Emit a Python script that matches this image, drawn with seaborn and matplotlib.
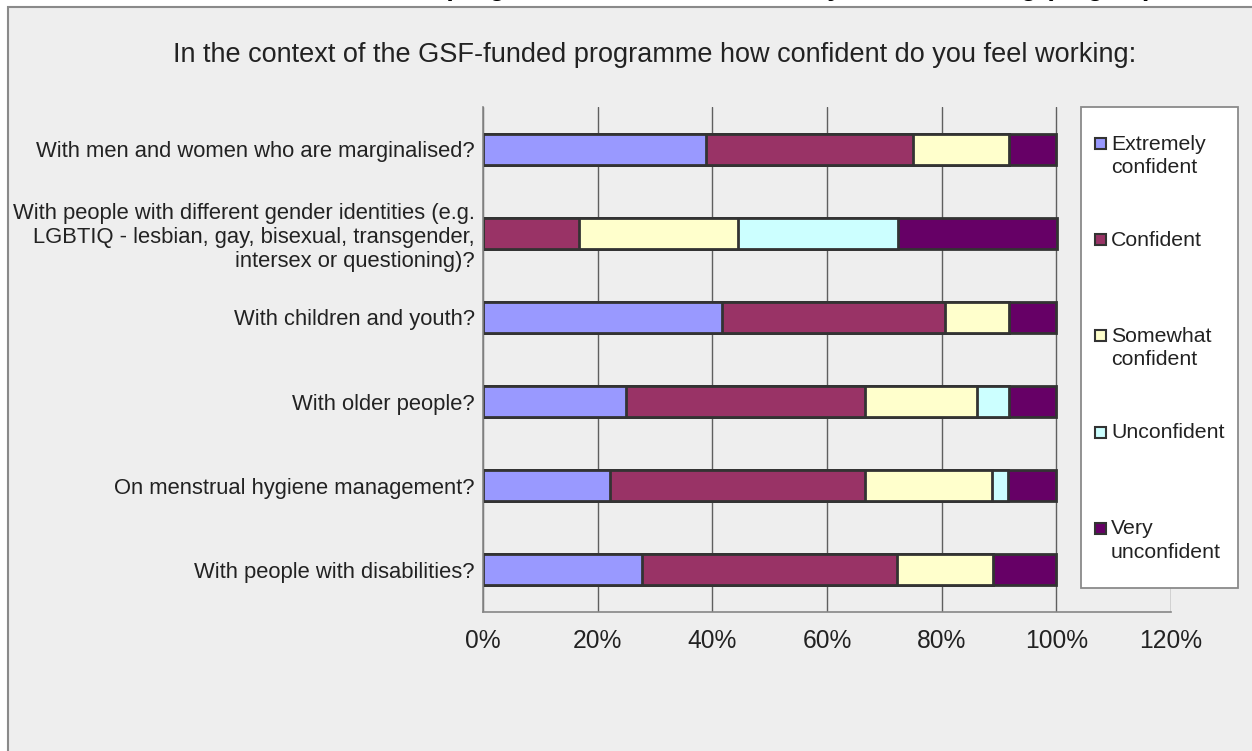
import numpy as np
import pandas as pd
import seaborn as sns
import matplotlib.pyplot as plt
from matplotlib.patches import Rectangle

# Data (% of respondents)
questions = [
    "With men and women who are marginalised?",
    "With people with different gender identities (e.g.\nLGBTIQ - lesbian, gay, bisexual, transgender,\nintersex or questioning)?",
    "With children and youth?",
    "With older people?",
    "On menstrual hygiene management?",
    "With people with disabilities?",
]
levels = ["Extremely\nconfident", "Confident", "Somewhat\nconfident", "Unconfident", "Very\nunconfident"]
colors = ["#9999FF", "#993366", "#FFFFCC", "#CCFFFF", "#660066"]

extremely = [38.9, 0.0, 41.7, 25.0, 22.2, 27.8]
confident = [36.1, 16.7, 38.9, 41.7, 44.4, 44.4]
somewhat = [16.7, 27.8, 11.1, 19.4, 22.2, 16.7]
unconfident = [0.0, 27.8, 0.0, 5.6, 2.8, 0.0]
very_unconfident = [8.3, 27.8, 8.3, 8.3, 8.3, 11.1]

x_ticks = [0, 20, 40, 60, 80, 100, 120]
x_tick_labels = ["0%", "20%", "40%", "60%", "80%", "100%", "120%"]

title = "In the context of the GSF-funded programme how confident do you feel working:"
caption = "In the context of the GSF-funded programme how confident do you feel working (Region)"

df = pd.DataFrame({
    "question": questions,
    levels[0]: extremely,
    levels[1]: confident,
    levels[2]: somewhat,
    levels[3]: unconfident,
    levels[4]: very_unconfident,
})
cum = df[levels].cumsum(axis=1)

sns.set_style("white")
plt.rcParams["font.family"] = ["Liberation Sans", "DejaVu Sans"]

W, H = 1252, 751
fig = plt.figure(figsize=(W / 100, H / 100), dpi=100, facecolor="white")

# grey chart panel
fig.add_artist(Rectangle((8 / W, -0.02), 1.0, 1 - 7 / H + 0.02, transform=fig.transFigure,
                         facecolor="#EEEEEE", edgecolor="#8a8a8a", linewidth=1.5, zorder=-1))

# caption of the page, cut off at the top (only descenders show)
fig.text(1152 / W, 1 + 5 / H, caption, ha="right", va="baseline", fontsize=19.2,
         fontweight="bold", color="black")

fig.text(655 / W, 1 - 62 / H, title, ha="center", va="baseline", fontsize=19.5, color="#222222")

ax = fig.add_axes([483 / W, (H - 612) / H, (1171 - 483) / W, (612 - 107) / H])
ax.set_facecolor("none")

# stacked bars: draw cumulative totals, longest first
for col, color in reversed(list(zip(levels, colors))):
    sns.barplot(x=cum[col], y=df["question"], orient="h", color=color, saturation=1,
                width=0.37, edgecolor="#333333", linewidth=2, errorbar=None, ax=ax)

ax.set_xlim(0, 120)
ax.set_ylim(5.5, -0.5)
ax.set_xlabel("")
ax.set_ylabel("")
ax.set_xticks(x_ticks)
ax.set_xticklabels(x_tick_labels, fontsize=17.7, color="#222222")
ax.set_yticks(np.arange(-0.5, 6, 1), minor=True)
ax.tick_params(axis="y", which="major", length=0, pad=6, labelsize=15.8, labelcolor="#222222")
ax.tick_params(axis="y", which="minor", length=4.5, width=1, color="#808080", direction="out")
ax.tick_params(axis="x", which="major", length=6, width=1, color="#555555", direction="out", pad=6)
for t in ax.get_yticklabels():
    t.set_linespacing(1.18)

ax.xaxis.grid(True, color="#5f5f5f", linewidth=1)
ax.yaxis.grid(False)
ax.set_axisbelow(True)
for side in ["top", "right"]:
    ax.spines[side].set_visible(False)
for side in ["left", "bottom"]:
    ax.spines[side].set_color("#868686")
    ax.spines[side].set_linewidth(1.2)

# legend box
fig.add_artist(Rectangle((1081 / W, (H - 588) / H), (1238 - 1081) / W, (588 - 107) / H,
                         transform=fig.transFigure, facecolor="white", edgecolor="#8a8a8a",
                         linewidth=1.3, zorder=5))
for i, (lab, color) in enumerate(zip(levels, colors)):
    yc = 143.5 + i * 96.2
    fig.add_artist(Rectangle((1095 / W, (H - yc - 5.5) / H), 11 / W, 11 / H,
                             transform=fig.transFigure, facecolor=color, edgecolor="#333333",
                             linewidth=1.5, zorder=6))
    fig.text(1111 / W, (H - yc + 9) / H, lab, ha="left", va="top", fontsize=15.3,
             color="#222222", linespacing=1.3, zorder=6)

fig.savefig("out.png", dpi=100)
